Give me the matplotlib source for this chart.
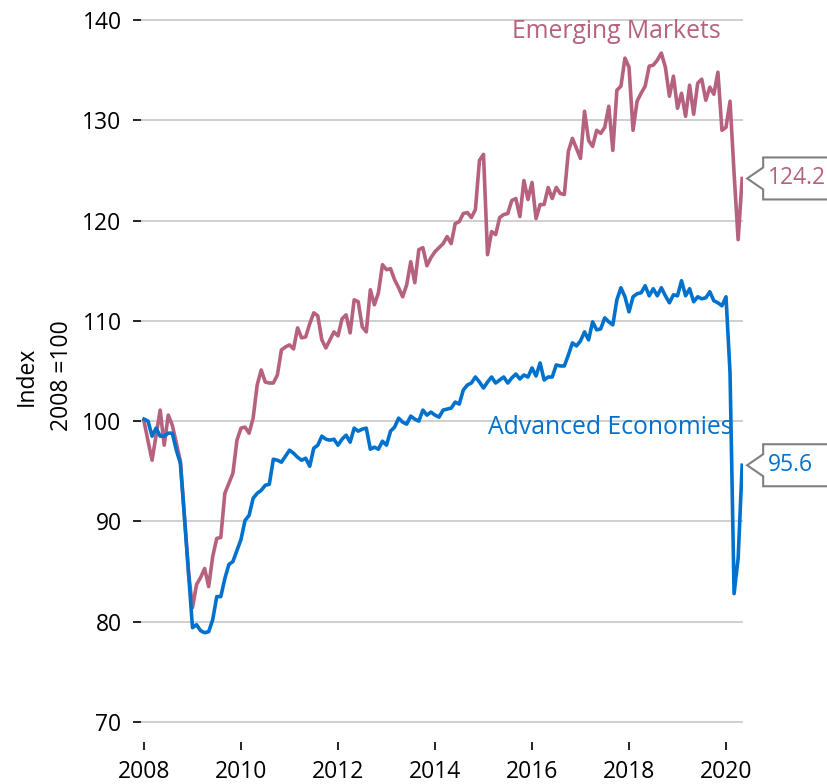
import numpy as np
import matplotlib
matplotlib.use("Agg")
import matplotlib.pyplot as plt
from matplotlib.patches import Polygon

# -------------------------
# Data: monthly index, Jan 2008 = 100
# -------------------------
start_year = 2008

emerging = [
    100.0, 98.0, 96.1, 98.6, 101.1, 97.6, 100.6, 99.6, 97.8, 96.0, 90.5, 85.0,      # 2008
    81.4, 83.7, 84.4, 85.3, 83.5, 86.5, 88.3, 88.4, 92.8, 93.8, 94.8, 98.1,         # 2009
    99.3, 99.4, 98.8, 100.3, 103.6, 105.1, 103.9, 103.8, 103.8, 104.6, 107.1, 107.4,  # 2010
    107.6, 107.2, 109.3, 108.3, 108.4, 109.7, 110.8, 110.5, 108.1, 107.3, 108.1, 108.9,  # 2011
    108.5, 110.2, 110.6, 108.8, 112.1, 111.9, 109.4, 108.9, 113.1, 111.6, 112.8, 115.6,  # 2012
    115.1, 115.2, 114.1, 113.3, 112.4, 113.6, 115.9, 113.8, 117.1, 117.3, 115.5, 116.3,  # 2013
    116.9, 117.3, 117.7, 118.4, 117.7, 119.7, 119.9, 120.7, 120.8, 120.3, 121.1, 126.0,  # 2014
    126.6, 116.6, 118.9, 118.6, 120.3, 120.6, 120.7, 122.0, 122.2, 120.4, 124.0, 122.1,  # 2015
    123.8, 120.2, 121.6, 121.6, 123.3, 122.2, 123.3, 122.7, 122.6, 126.9, 128.2, 127.2,  # 2016
    126.2, 130.9, 128.0, 127.4, 129.0, 128.7, 129.3, 131.4, 127.0, 133.0, 133.4, 136.2,  # 2017
    135.3, 129.0, 131.9, 132.7, 133.4, 135.4, 135.5, 136.0, 136.7, 135.3, 132.4, 134.4,  # 2018
    131.2, 132.7, 130.4, 133.5, 130.6, 133.7, 134.1, 132.0, 133.3, 132.6, 134.8, 129.0,  # 2019
    129.3, 131.9, 124.7, 118.1, 124.2,                                                  # 2020
]

advanced = [
    100.2, 100.0, 98.5, 99.3, 98.5, 98.5, 98.8, 98.8, 97.1, 95.8, 90.5, 85.0,       # 2008
    79.4, 79.7, 79.1, 78.9, 79.0, 80.2, 82.5, 82.5, 84.3, 85.7, 86.0, 87.1,         # 2009
    88.2, 90.1, 90.6, 92.3, 92.8, 93.1, 93.6, 93.7, 96.2, 96.1, 95.9, 96.5,         # 2010
    97.1, 96.8, 96.4, 96.1, 96.3, 95.5, 97.3, 97.6, 98.5, 98.2, 98.1, 98.2,         # 2011
    97.6, 98.2, 98.6, 97.9, 99.3, 99.0, 99.2, 99.3, 97.2, 97.4, 97.2, 98.0,         # 2012
    97.6, 99.0, 99.4, 100.3, 99.9, 99.7, 100.5, 100.2, 100.0, 101.1, 100.6, 100.9,  # 2013
    100.6, 100.4, 101.1, 101.2, 101.3, 101.9, 101.7, 103.1, 103.6, 103.8, 104.4, 103.9,  # 2014
    103.3, 103.9, 104.4, 103.8, 104.1, 104.4, 103.8, 104.3, 104.7, 104.2, 104.6, 104.4,  # 2015
    105.3, 104.5, 105.8, 104.1, 104.4, 104.4, 105.6, 105.5, 105.5, 106.6, 107.8, 107.5,  # 2016
    108.0, 108.9, 108.1, 109.9, 109.1, 109.2, 110.3, 109.9, 109.6, 112.1, 113.3, 112.4,  # 2017
    110.9, 112.4, 112.7, 112.8, 113.5, 112.5, 113.2, 112.5, 113.3, 112.5, 111.8, 112.6,  # 2018
    112.5, 114.0, 112.5, 113.2, 111.9, 112.4, 112.2, 112.3, 112.9, 112.0, 111.8, 111.5,  # 2019
    112.4, 104.8, 82.8, 86.3, 95.6,                                                  # 2020
]

year_ticks = [2008, 2010, 2012, 2014, 2016, 2018, 2020]
y_ticks = [70, 80, 90, 100, 110, 120, 130, 140]

EM_COLOR = "#B5617F"
AE_COLOR = "#0072CE"

months = np.arange(len(emerging))
x = start_year + months / 12.0

plt.rcParams['font.family'] = ['Open Sans', 'DejaVu Sans']
plt.rcParams['font.size'] = 16.5

W, H = 828, 784
fig = plt.figure(figsize=(W / 100, H / 100), dpi=100)
ax = fig.add_axes([141 / W, (H - 742) / H, (743 - 141) / W, 732 / H])

ax.plot(x, emerging, color=EM_COLOR, lw=2.6, solid_joinstyle="round")
ax.plot(x, advanced, color=AE_COLOR, lw=2.6, solid_joinstyle="round")

ax.set_xlim(2008 - 3 / 48.5, 2008 + 599 / 48.5)
ax.set_ylim(68.0, 141.0)
ax.set_xticks(year_ticks)
ax.set_yticks(y_ticks)

for s in ax.spines.values():
    s.set_visible(False)
ax.yaxis.grid(True, color="#CCCCCC", lw=1.3)
ax.set_axisbelow(True)
ax.tick_params(axis="y", length=6, width=1.2, pad=8, colors="black")
ax.tick_params(axis="x", length=6, width=1.2, pad=7, colors="black")

ax.set_ylabel("Index\n2008 =100", labelpad=6, linespacing=1.6)

ax.text(2017.73, 138.9, "Emerging Markets", color=EM_COLOR, ha="center", va="center", fontsize=17.8)
ax.text(2017.61, 99.4, "Advanced Economies", color=AE_COLOR, ha="center", va="center", fontsize=17.8)

# -------------------------
# Callouts with last values
# -------------------------
def callout(series, color):
    val = series[-1]
    px, py = ax.transData.transform((x[-1], val))
    verts = [(px + 5, py), (px + 21, py + 11), (px + 21, py + 21), (px + 140, py + 21),
             (px + 140, py - 21), (px + 21, py - 21), (px + 21, py - 11)]
    inv = fig.transFigure.inverted()
    fig.patches.append(Polygon(inv.transform(verts), closed=True, transform=fig.transFigure,
                               facecolor="white", edgecolor="#808080", lw=1.5, zorder=1))
    tx, ty = inv.transform((px + 26, py))
    fig.text(tx, ty, f"{val:.1f}", ha="left", va="center", color=color, zorder=3)

callout(emerging, EM_COLOR)
callout(advanced, AE_COLOR)

fig.savefig("out.png", dpi=100)
